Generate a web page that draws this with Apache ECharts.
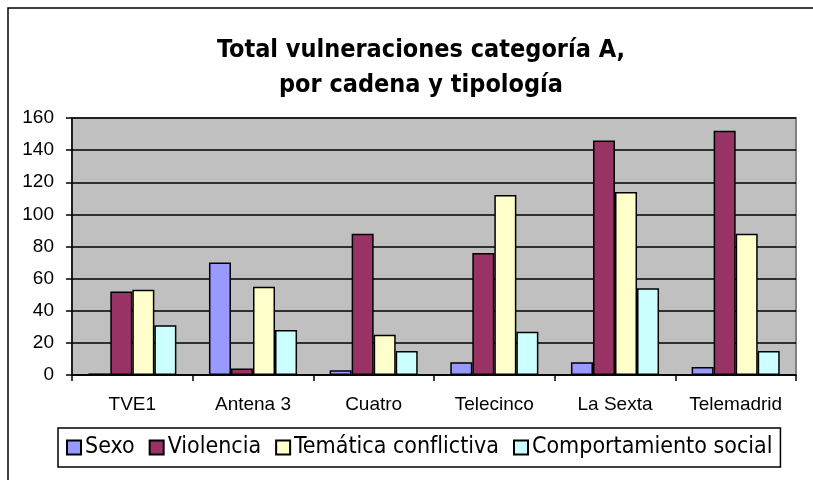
<!DOCTYPE html>
<html lang="es">
<head>
    <meta charset="UTF-8">
    <title>Total vulneraciones categoría A</title>
    <script src="https://cdn.jsdelivr.net/npm/echarts@6/dist/echarts.min.js"></script>
    <style>
        html, body { margin: 0; padding: 0; background: #ffffff; }
        #main { width: 813px; height: 480px; }
    </style>
</head>
<body>
<div id="main"></div>
<script type="text/javascript">
    // cadenas
    var cadenas = ['TVE1', 'Antena 3', 'Cuatro', 'Telecinco', 'La Sexta', 'Telemadrid'];
    // valores por tipología
    var sexo = [1, 70, 3, 8, 8, 5];
    var violencia = [52, 4, 88, 76, 146, 152];
    var tematica = [53, 55, 25, 112, 114, 88];
    var comportamiento = [31, 28, 15, 27, 54, 15];
    var yTicks = [0, 20, 40, 60, 80, 100, 120, 140, 160];

    var myChart = echarts.init(document.getElementById('main'));

    function serie(name, data, color) {
        return {
            name: name,
            type: 'bar',
            data: data,
            barGap: 0,
            barCategoryGap: '27%',
            itemStyle: {
                color: color,
                borderColor: '#000000',
                borderWidth: 1.5
            }
        };
    }

    myChart.setOption({
        backgroundColor: '#ffffff',
        animation: false,
        title: {
            text: 'Total vulneraciones categoría A,\npor cadena y tipología',
            left: 416,
            textAlign: 'center',
            top: 28,
            textStyle: {
                fontFamily: 'DejaVu Sans Condensed',
                fontWeight: 'bold',
                fontSize: 25,
                lineHeight: 35,
                color: '#000000'
            }
        },
        graphic: [{
            type: 'rect',
            shape: {x: 8, y: 8, width: 900, height: 600},
            style: {fill: 'none', stroke: '#000000', lineWidth: 1.5},
            silent: true
        }],
        legend: {
            left: 58,
            top: 428,
            padding: [8, 8, 8, 8],
            itemGap: 14,
            itemWidth: 14,
            itemHeight: 14,
            icon: 'rect',
            borderColor: '#000000',
            borderWidth: 1.5,
            textStyle: {
                fontFamily: 'DejaVu Sans Condensed',
                fontSize: 23,
                color: '#000000',
                padding: [0, 0, 0, -1]
            },
            data: ['Sexo', 'Violencia', 'Temática conflictiva', 'Comportamiento social']
        },
        grid: {
            left: 72,
            right: 17,
            top: 118,
            bottom: 105,
            show: true,
            backgroundColor: '#c0c0c0',
            borderColor: '#808080',
            borderWidth: 2
        },
        xAxis: {
            type: 'category',
            data: cadenas,
            axisLine: {lineStyle: {color: '#000000', width: 1.5}},
            axisTick: {show: true, interval: 0, length: 6, lineStyle: {color: '#000000', width: 1.5}},
            axisLabel: {
                interval: 0,
                color: '#000000',
                fontFamily: 'Liberation Sans',
                fontSize: 19,
                margin: 20
            }
        },
        yAxis: {
            type: 'value',
            min: yTicks[0],
            max: yTicks[yTicks.length - 1],
            interval: 20,
            axisLine: {show: true, lineStyle: {color: '#000000', width: 1.5}},
            axisTick: {show: true, length: 6, lineStyle: {color: '#000000', width: 1.5}},
            splitLine: {show: true, lineStyle: {color: '#000000', width: 1.5}},
            axisLabel: {
                color: '#000000',
                fontFamily: 'Liberation Sans',
                fontSize: 19,
                margin: 18
            }
        },
        series: [
            serie('Sexo', sexo, '#9999ff'),
            serie('Violencia', violencia, '#993366'),
            serie('Temática conflictiva', tematica, '#ffffcc'),
            serie('Comportamiento social', comportamiento, '#ccffff')
        ]
    });
</script>
</body>
</html>
